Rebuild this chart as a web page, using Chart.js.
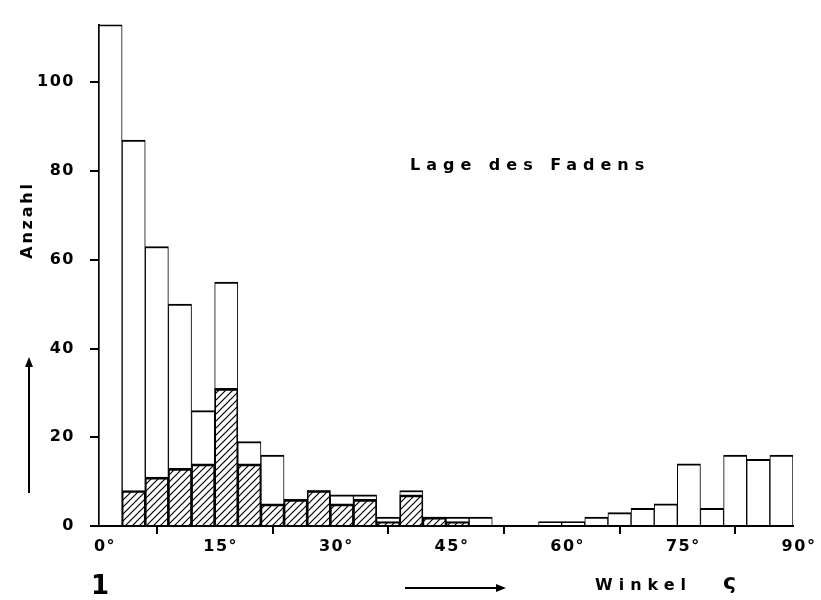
<!DOCTYPE html>
<html>
<head>
<meta charset="utf-8">
<script src="https://cdn.jsdelivr.net/npm/chart.js@4/dist/chart.umd.min.js"></script>
<style>
    body { margin: 0; background: #fff; }
    #chart { display: block; }
</style>
</head>
<body>
<canvas id="chart" width="821" height="600"></canvas>
<script>
// 3 degree classes, left edge of each class
var binStarts = [0, 3, 6, 9, 12, 15, 18, 21, 24, 27, 30, 33, 36, 39, 42, 45, 48, 51, 54, 57, 60, 63, 66, 69, 72, 75, 78, 81, 84, 87];
// all counts (open bars)
var totalCounts = [113, 87, 63, 50, 26, 55, 19, 16, 6, 8, 7, 7, 2, 8, 2, 2, 2, 0, 0, 1, 1, 2, 3, 4, 5, 14, 4, 16, 15, 16];
// hatched part
var hatchedCounts = [0, 8, 11, 13, 14, 31, 14, 5, 6, 8, 5, 6, 1, 7, 2, 1, 0, 0, 0, 0, 0, 0, 0, 0, 0, 0, 0, 0, 0, 0];
var xTicks = [0, 15, 30, 45, 60, 75, 90];
var yTicks = [0, 20, 40, 60, 80, 100];
var binWidth = 3;

var fontName = '"DejaVu Sans", sans-serif';

// diagonal hatch pattern
function makeHatch() {
    var c = document.createElement('canvas');
    c.width = 7;
    c.height = 7;
    var g = c.getContext('2d');
    g.strokeStyle = '#000';
    g.lineWidth = 1.2;
    g.beginPath();
    g.moveTo(-1, 8); g.lineTo(8, -1);
    g.moveTo(-4, 4); g.lineTo(4, -4);
    g.moveTo(3, 11); g.lineTo(11, 3);
    g.stroke();
    return g.createPattern(c, 'repeat');
}

function toPoints(values) {
    return values.map(function (v, i) {
        return { x: binStarts[i] + binWidth / 2, y: v };
    });
}

function spacedText(ctx, text, x, y, spacing) {
    ctx.letterSpacing = spacing + 'px';
    ctx.fillText(text, x, y);
}

function arrowHead(ctx, x, y, dx, dy) {
    // dx, dy: unit direction of the tip
    var len = 10, half = 4;
    ctx.beginPath();
    ctx.moveTo(x, y);
    ctx.lineTo(x - dx * len - dy * half, y - dy * len + dx * half);
    ctx.lineTo(x - dx * len + dy * half, y - dy * len - dx * half);
    ctx.closePath();
    ctx.fill();
}

var spacingPlugin = {
    id: 'spacing',
    beforeUpdate: function (chart) { chart.ctx.letterSpacing = '1.5px'; },
    beforeDraw: function (chart) { chart.ctx.letterSpacing = '1.5px'; }
};

var notesPlugin = {
    id: 'notes',
    afterDraw: function (chart) {
        var ctx = chart.ctx;
        ctx.save();
        ctx.fillStyle = '#000';
        ctx.strokeStyle = '#000';
        ctx.textBaseline = 'middle';
        ctx.textAlign = 'left';
        ctx.font = 'bold 16px ' + fontName;
        spacedText(ctx, 'Lage des Fadens', 410, 166, 6);
        spacedText(ctx, 'Winkel', 595, 586, 6);
        ctx.font = 'bold 22px ' + fontName;
        spacedText(ctx, 'ς', 723, 583, 0);

        ctx.save();
        ctx.translate(28, 220);
        ctx.rotate(-Math.PI / 2);
        ctx.textAlign = 'center';
        ctx.font = 'bold 16px ' + fontName;
        spacedText(ctx, 'Anzahl', 0, 0, 2.8);
        ctx.restore();

        ctx.font = 'bold 26px ' + fontName;
        spacedText(ctx, '1', 91, 587, 0);

        // arrows
        ctx.lineWidth = 2;
        ctx.beginPath();
        ctx.moveTo(29, 493); ctx.lineTo(29, 362);
        ctx.moveTo(405, 588); ctx.lineTo(500, 588);
        ctx.stroke();
        arrowHead(ctx, 29, 357, 0, -1);
        arrowHead(ctx, 506, 588, 1, 0);
        ctx.restore();
    }
};

var tickFont = { family: fontName, size: 16, weight: 'bold' };

var chart = new Chart(document.getElementById('chart'), {
    type: 'bar',
    data: {
        datasets: [{
            label: 'schraffiert',
            data: toPoints(hatchedCounts),
            backgroundColor: makeHatch(),
            borderColor: '#000',
            borderWidth: { top: 2, left: 1, right: 1, bottom: 0 },
            borderSkipped: false,
            grouped: false,
            barPercentage: 1,
            categoryPercentage: 1,
            order: 0
        }, {
            label: 'Anzahl',
            data: toPoints(totalCounts),
            backgroundColor: '#fff',
            borderColor: '#000',
            borderWidth: { top: 2, left: 1, right: 1, bottom: 0 },
            borderSkipped: false,
            grouped: false,
            barPercentage: 1,
            categoryPercentage: 1,
            order: 1
        }]
    },
    options: {
        responsive: false,
        animation: false,
        layout: { padding: { left: 0, right: 28, top: 11, bottom: 0 } },
        plugins: {
            legend: { display: false },
            tooltip: { enabled: false }
        },
        scales: {
            x: {
                type: 'linear',
                min: 0,
                max: 90,
                offset: false,
                afterFit: function (scale) { scale.height = 74; },
                afterBuildTicks: function (scale) {
                    scale.ticks = xTicks.map(function (v) { return { value: v }; });
                },
                border: { display: true, color: '#000', width: 2 },
                grid: { drawOnChartArea: false, drawTicks: true, tickLength: 8, color: '#000', lineWidth: 2 },
                ticks: {
                    color: '#000',
                    font: tickFont,
                    padding: 3,
                    labelOffset: 6,
                    maxRotation: 0,
                    callback: function (v) { return v + '°'; }
                }
            },
            y: {
                min: 0,
                max: 113,
                afterFit: function (scale) { scale.width = 99; },
                afterBuildTicks: function (scale) {
                    scale.ticks = yTicks.map(function (v) { return { value: v }; });
                },
                border: { display: true, color: '#000', width: 2 },
                grid: { drawOnChartArea: false, drawTicks: true, tickLength: 9, color: '#000', lineWidth: 2 },
                ticks: {
                    color: '#000',
                    font: tickFont,
                    padding: 15
                }
            }
        }
    },
    plugins: [spacingPlugin, notesPlugin]
});
</script>
</body>
</html>
